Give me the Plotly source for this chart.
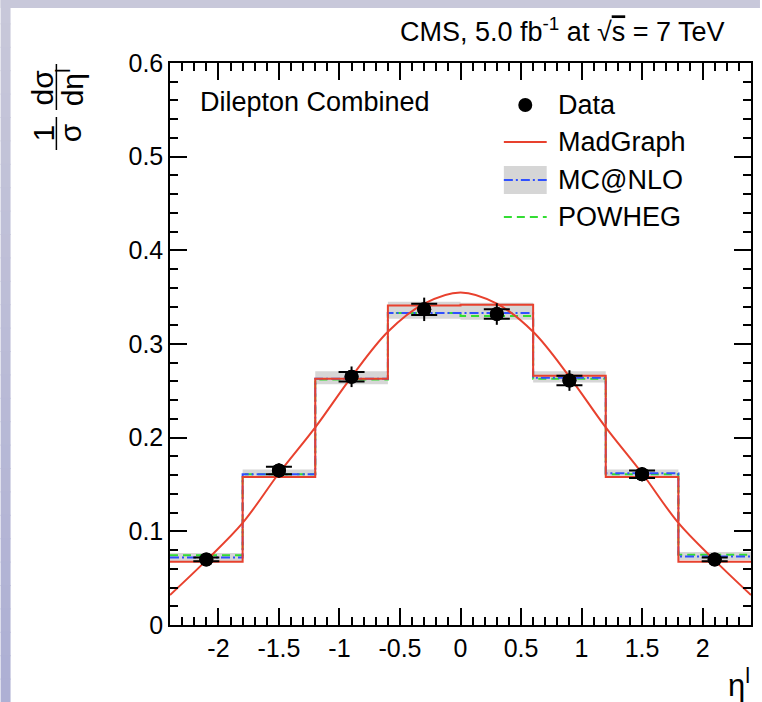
import plotly.graph_objects as go

# ---------------- data ----------------
bin_edges = [-2.4, -1.8, -1.2, -0.6, 0.0, 0.6, 1.2, 1.8, 2.4]
bin_centers = [-2.1, -1.5, -0.9, -0.3, 0.3, 0.9, 1.5, 2.1]

data_vals = [0.070, 0.165, 0.265, 0.337, 0.332, 0.261, 0.161, 0.070]
data_err_tot = [0.004, 0.0075, 0.011, 0.0125, 0.0115, 0.011, 0.0075, 0.004]
data_err_stat = [0.002, 0.004, 0.005, 0.006, 0.005, 0.005, 0.004, 0.002]

madgraph = [0.0676, 0.158, 0.263, 0.341, 0.342, 0.266, 0.158, 0.0676]
mcatnlo = [0.072, 0.161, 0.263, 0.333, 0.333, 0.264, 0.162, 0.073]
mcatnlo_lo = [0.068, 0.157, 0.257, 0.327, 0.326, 0.259, 0.157, 0.069]
mcatnlo_hi = [0.077, 0.166, 0.271, 0.345, 0.344, 0.271, 0.166, 0.078]
powheg = [0.0745, 0.161, 0.262, 0.333, 0.330, 0.263, 0.161, 0.075]

curve_x = [-2.4, -2.1, -1.8, -1.5, -1.2, -0.9, -0.6, -0.3, 0.0,
           0.3, 0.6, 0.9, 1.2, 1.5, 1.8, 2.1, 2.4]
curve_y = [0.032, 0.069, 0.109, 0.162, 0.211, 0.265, 0.313, 0.343, 0.355,
           0.343, 0.313, 0.265, 0.211, 0.162, 0.109, 0.069, 0.032]

x_tickvals = [-2, -1.5, -1, -0.5, 0, 0.5, 1, 1.5, 2]
x_ticktext = ["-2", "-1.5", "-1", "-0.5", "0", "0.5", "1", "1.5", "2"]
y_tickvals = [0, 0.1, 0.2, 0.3, 0.4, 0.5, 0.6]
y_ticktext = ["0", "0.1", "0.2", "0.3", "0.4", "0.5", "0.6"]

legend_labels = ["Data", "MadGraph", "MC@NLO", "POWHEG"]

RED = "#e8412e"
BLUE = "#3050ff"
GREEN = "#33dd33"
GREY = "#d6d6d6"
FONT = "Liberation Sans, Arial, sans-serif"

W, H = 762, 702
ML, MR, MT, MB = 170, 9, 63, 77
PW, PH = W - ML - MR, H - MT - MB


def px(x):
    return (x - ML) / PW


def py(y):
    return (H - MB - y) / PH


def step(vals):
    return list(vals) + [vals[-1]]


fig = go.Figure()

# MC@NLO uncertainty band
fig.add_trace(go.Scatter(x=bin_edges, y=step(mcatnlo_lo), mode="lines",
                         line=dict(width=0, shape="hv", color=GREY),
                         showlegend=False, hoverinfo="skip"))
fig.add_trace(go.Scatter(x=bin_edges, y=step(mcatnlo_hi), mode="lines",
                         line=dict(width=0, shape="hv", color=GREY),
                         fill="tonexty", fillcolor=GREY,
                         showlegend=False, hoverinfo="skip"))
# POWHEG
fig.add_trace(go.Scatter(x=bin_edges, y=step(powheg), mode="lines",
                         line=dict(width=2, shape="hv", color=GREEN, dash="8px,5px"),
                         showlegend=False))
# MC@NLO
fig.add_trace(go.Scatter(x=bin_edges, y=step(mcatnlo), mode="lines",
                         line=dict(width=2, shape="hv", color=BLUE,
                                   dash="9px,3px,2px,3px"),
                         showlegend=False))
# MadGraph histogram
fig.add_trace(go.Scatter(x=bin_edges, y=step(madgraph), mode="lines",
                         line=dict(width=2, shape="hv", color=RED),
                         showlegend=False))
# MadGraph smooth curve
fig.add_trace(go.Scatter(x=curve_x, y=curve_y, mode="lines",
                         line=dict(width=2, shape="spline", color=RED),
                         showlegend=False))
# Data total errors
fig.add_trace(go.Scatter(x=bin_centers, y=data_vals, mode="markers",
                         marker=dict(size=14, color="black"),
                         error_y=dict(type="data", array=data_err_tot,
                                      color="black", thickness=2, width=0),
                         showlegend=False))
# Data stat errors (caps)
fig.add_trace(go.Scatter(x=bin_centers, y=data_vals, mode="markers",
                         marker=dict(size=14, color="black"),
                         error_y=dict(type="data", array=data_err_stat,
                                      color="black", thickness=2, width=13),
                         showlegend=False))

shapes = []
# background border strips (lavender gradient)
n = 30
for i in range(n):
    t = i / (n - 1)
    r = int(200 - t * 26)
    g = int(200 - t * 24)
    b = int(218 - t * 6)
    y0 = i * H / n
    y1 = (i + 1) * H / n + 1
    shapes.append(dict(type="rect", xref="paper", yref="paper",
                       x0=px(0), x1=px(10), y0=py(y1), y1=py(y0),
                       fillcolor=f"rgb({r},{g},{b})", line=dict(width=0),
                       layer="below"))
shapes.append(dict(type="rect", xref="paper", yref="paper",
                   x0=px(0), x1=px(W), y0=py(8), y1=py(0),
                   fillcolor="rgb(200,200,218)", line=dict(width=0),
                   layer="below"))

# manual legend
lx0, lx1 = 505, 548
ly = [105, 142, 180, 217]
shapes.append(dict(type="circle", xref="paper", yref="paper",
                   xsizemode="pixel", ysizemode="pixel",
                   xanchor=px(526.5), yanchor=py(ly[0]),
                   x0=-7, x1=7, y0=-7, y1=7,
                   fillcolor="black", line=dict(width=0)))
shapes.append(dict(type="line", xref="paper", yref="paper",
                   x0=px(lx0), x1=px(lx1), y0=py(ly[1]), y1=py(ly[1]),
                   line=dict(color=RED, width=2)))
shapes.append(dict(type="rect", xref="paper", yref="paper",
                   x0=px(lx0), x1=px(lx1), y0=py(194), y1=py(166),
                   fillcolor=GREY, line=dict(width=0)))
shapes.append(dict(type="line", xref="paper", yref="paper",
                   x0=px(lx0), x1=px(lx1), y0=py(ly[2]), y1=py(ly[2]),
                   line=dict(color=BLUE, width=2, dash="9px,3px,2px,3px")))
shapes.append(dict(type="line", xref="paper", yref="paper",
                   x0=px(lx0), x1=px(lx1), y0=py(ly[3]), y1=py(ly[3]),
                   line=dict(color=GREEN, width=2, dash="8px,5px")))

# y-title fraction bars
shapes.append(dict(type="line", xref="paper", yref="paper",
                   x0=px(56), x1=px(56), y0=py(150), y1=py(117),
                   line=dict(color="black", width=1.5)))
shapes.append(dict(type="line", xref="paper", yref="paper",
                   x0=px(56), x1=px(56), y0=py(110), y1=py(64),
                   line=dict(color="black", width=1.5)))

annotations = []
for lab, yy in zip(legend_labels, ly):
    annotations.append(dict(text=lab, xref="paper", yref="paper",
                            x=px(557), y=py(yy), xanchor="left", yanchor="middle",
                            showarrow=False, font=dict(size=27, color="black", family=FONT)))
annotations.append(dict(text="Dilepton Combined", xref="paper", yref="paper",
                        x=px(198), y=py(102), xanchor="left", yanchor="middle",
                        showarrow=False, font=dict(size=27, color="black", family=FONT)))
annotations.append(dict(text="CMS, 5.0 fb<sup>-1</sup> at √<span style='text-decoration:overline'>s</span> = 7 TeV",
                        xref="paper", yref="paper",
                        x=px(729), y=py(30), xanchor="right", yanchor="middle",
                        showarrow=False, font=dict(size=27, color="black", family=FONT)))
annotations.append(dict(text="η<sup>l</sup>", xref="paper", yref="paper",
                        x=px(754), y=py(683), xanchor="right", yanchor="middle",
                        showarrow=False, font=dict(size=31, color="black", family=FONT)))
# y-title: rotated fraction pieces
for txt, xx, yy in [("1", 43, 133), ("σ", 70, 133), ("dσ", 43, 87), ("dη<sup>l</sup>", 70, 87)]:
    annotations.append(dict(text=txt, xref="paper", yref="paper",
                            x=px(xx), y=py(yy), xanchor="center", yanchor="middle",
                            textangle=-90, showarrow=False,
                            font=dict(size=30, color="black", family=FONT)))

axis_common = dict(showline=True, linecolor="black", linewidth=1.5, mirror="ticks",
                   ticks="inside", tickcolor="black", tickwidth=1.5, ticklen=17,
                   showgrid=False, zeroline=False,
                   tickfont=dict(size=25, color="black", family=FONT))

fig.update_layout(
    width=W, height=H,
    margin=dict(l=ML, r=MR, t=MT, b=MB),
    paper_bgcolor="white", plot_bgcolor="white",
    showlegend=False,
    shapes=shapes, annotations=annotations,
    xaxis=dict(range=[-2.4, 2.4], tickmode="array", tickvals=x_tickvals,
               ticktext=x_ticktext, ticklabelstandoff=0,
               minor=dict(ticks="inside", dtick=0.1, tick0=0, ticklen=8,
                          tickcolor="black", tickwidth=1.5, showgrid=False),
               **axis_common),
    yaxis=dict(range=[0, 0.6], tickmode="array", tickvals=y_tickvals,
               ticktext=y_ticktext, ticklabelstandoff=0,
               minor=dict(ticks="inside", dtick=0.02, tick0=0, ticklen=8,
                          tickcolor="black", tickwidth=1.5, showgrid=False),
               **axis_common),
)

fig.write_html("out.html")
